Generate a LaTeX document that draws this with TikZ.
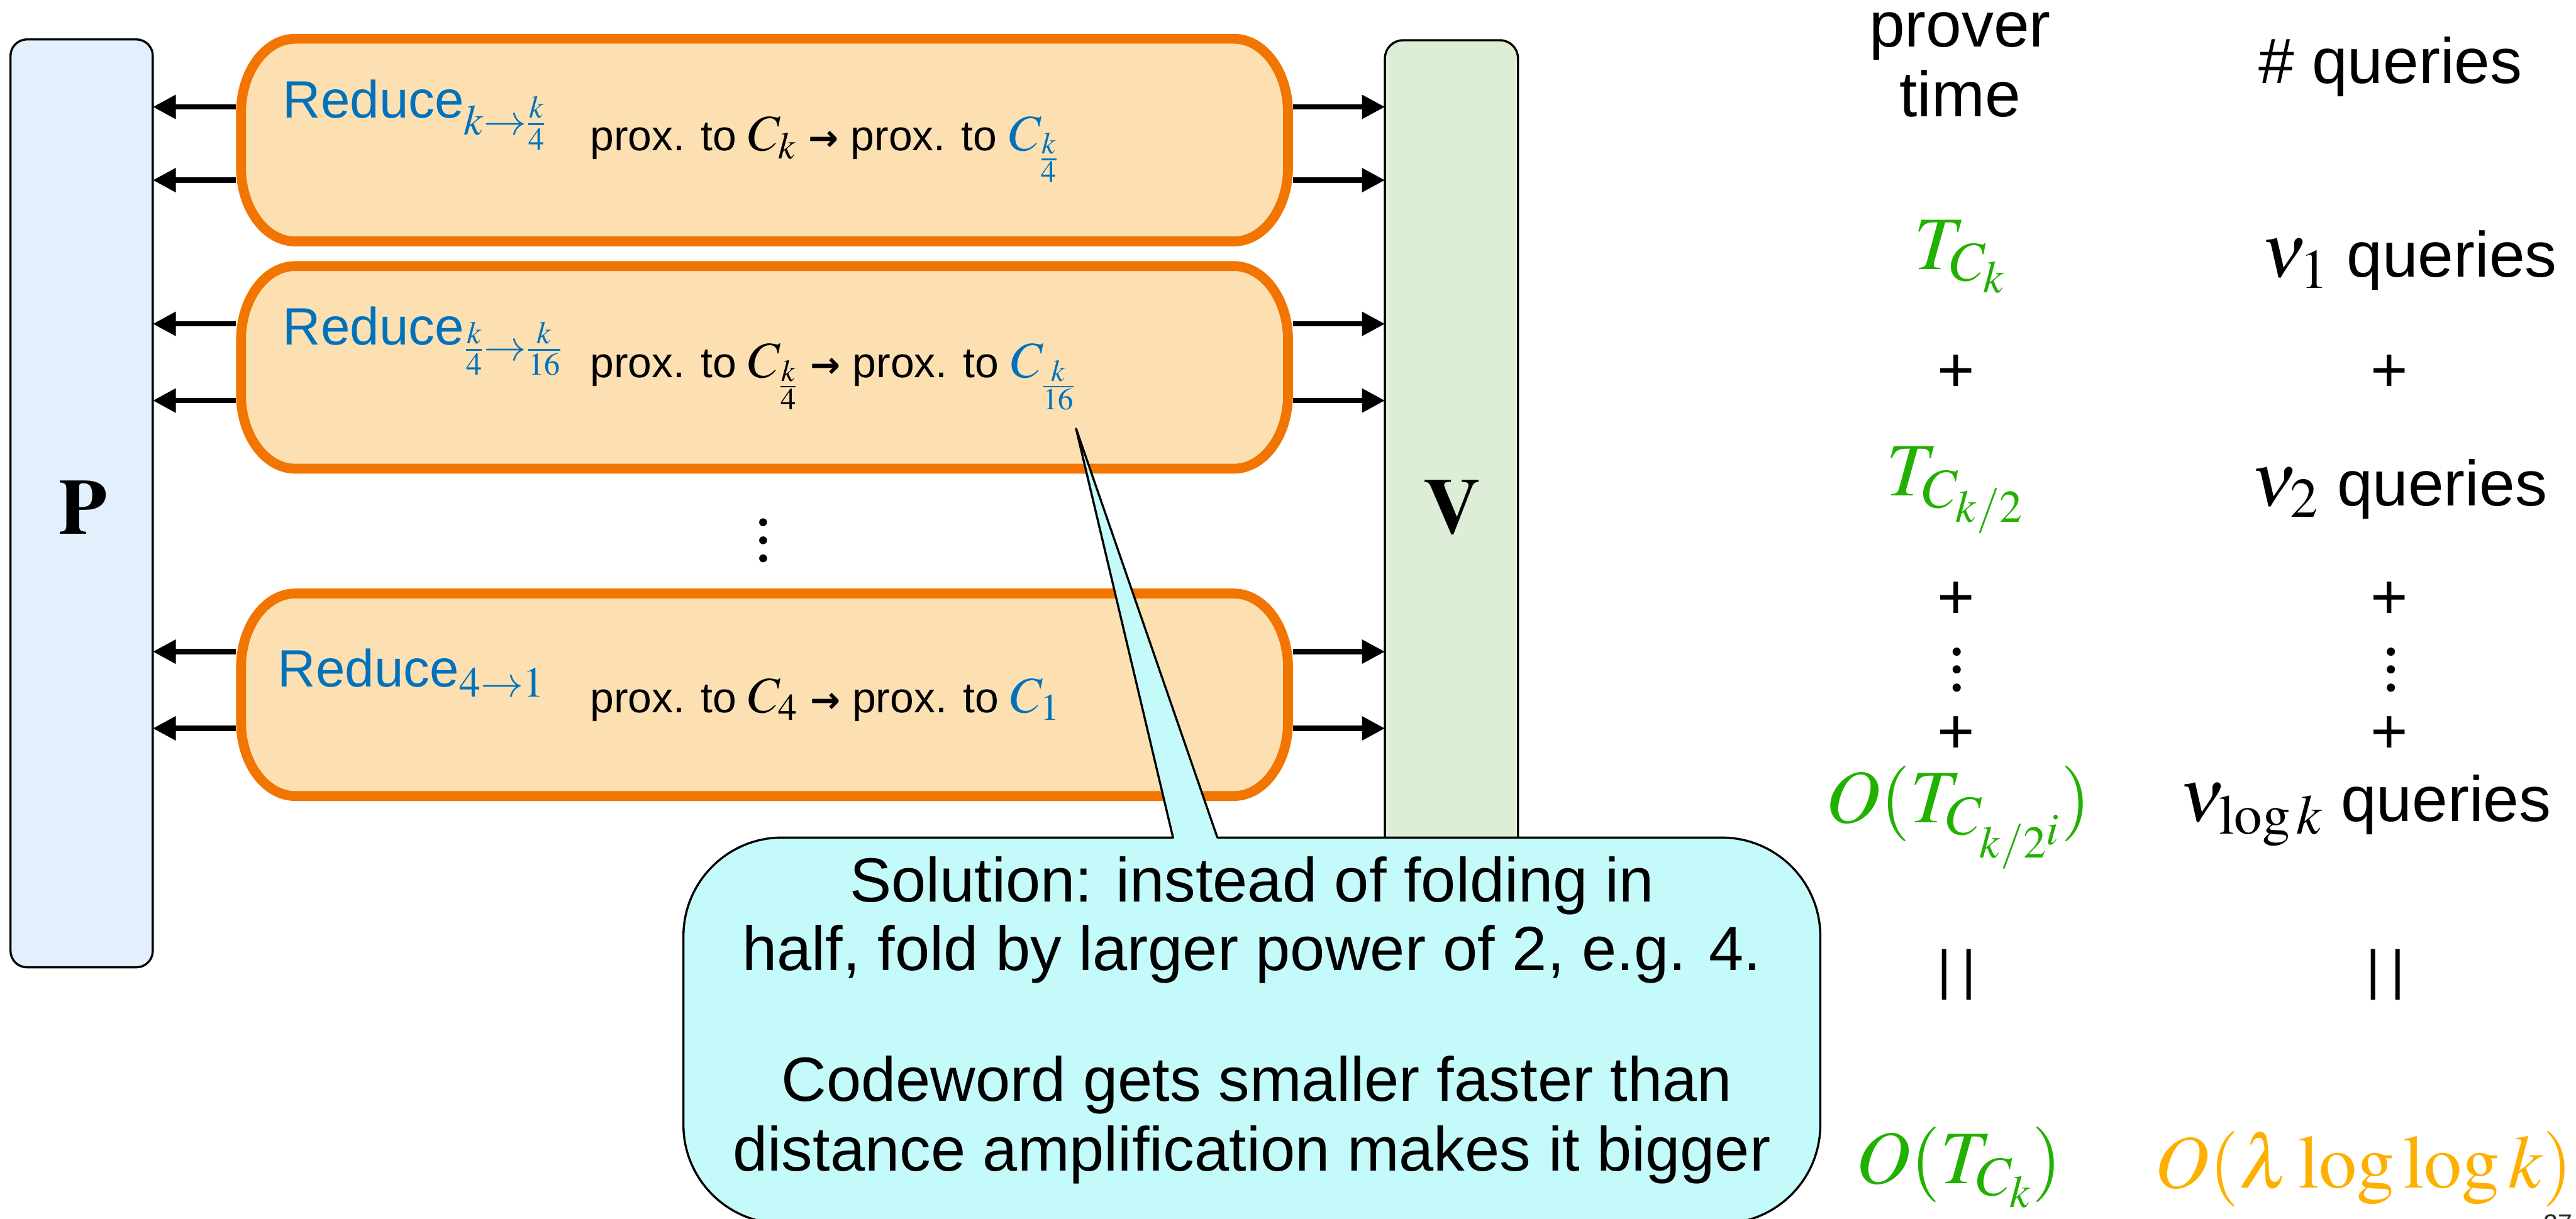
\documentclass[tikz,border=0pt]{standalone}
\usepackage{mathptmx}
\usepackage[no-math]{fontspec}
\setmainfont{Liberation Sans}
\newfontfamily\dejavu{DejaVu Sans}
\usetikzlibrary{arrows.meta}
\definecolor{rblue}{HTML}{0072BC}
\definecolor{rorange}{HTML}{F17500}
\definecolor{rfill}{HTML}{FDE0B2}
\definecolor{pfill}{HTML}{E2F0FD}
\definecolor{vfill}{HTML}{DEEED6}
\definecolor{cfill}{HTML}{C5FAFA}
\definecolor{tgreen}{HTML}{22B100}
\definecolor{torange}{HTML}{FDB000}
\newcommand\ellbox[7]{%
  \draw[#1] ({#2+#6},#3) -- ({#4-#6},#3)
    .. controls ({#4-0.448*#6},#3) and (#4,{#3+0.448*#7}) .. (#4,{#3+#7})
    -- (#4,{#5-#7})
    .. controls (#4,{#5-0.448*#7}) and ({#4-0.448*#6},#5) .. ({#4-#6},#5)
    -- ({#2+#6},#5)
    .. controls ({#2+0.448*#6},#5) and (#2,{#5-0.448*#7}) .. (#2,{#5-#7})
    -- (#2,{#3+#7})
    .. controls (#2,{#3+0.448*#7}) and ({#2+0.448*#6},#3) .. cycle;}
\newcommand\mthA[1]{{\fontsize{31}{34}\selectfont$#1$}}
\newcommand\mthB{\fontsize{46}{50}\selectfont}
\newcommand\rarr{{\dejavu\bfseries\fontsize{22}{24}\selectfont →}}
\newcommand\subbox[2]{\raisebox{-#1pt}{\fontsize{26}{28}\selectfont$#2$}}
\begin{document}
\begin{tikzpicture}[x=1pt,y=-1pt,
  sidebox/.style={draw=black, line width=1.3pt, rounded corners=10pt, inner sep=0pt, outer sep=0pt},
  holder/.style={inner sep=0pt, outer sep=0pt, minimum width=643.3pt, minimum height=129.4pt},
  rboxstyle/.style={draw=rorange, fill=rfill, line width=6pt, line join=round},
  arr/.style={line width=3.2pt, -{Triangle[length=14pt,width=14pt]}},
  redlbl/.style={anchor=base west, inner sep=0pt, text=rblue, font=\fontsize{32}{36}\selectfont},
  proxlbl/.style={anchor=base west, inner sep=0pt, font=\fontsize{26}{30}\selectfont},
  rtxt/.style={anchor=base, inner sep=0pt, font=\fontsize{39}{42}\selectfont},
  rtxtw/.style={anchor=base west, inner sep=0pt, font=\fontsize{39}{42}\selectfont},
  ctxt/.style={anchor=base, inner sep=0pt, font=\fontsize{38}{42}\selectfont}]
\useasboundingbox (0,0) rectangle (1568,742);

% prover and verifier
\node[sidebox, fill=pfill, minimum width=86.6pt, minimum height=565pt] (P) at (49.7,306.5) {};
\node[sidebox, fill=vfill, minimum width=81pt, minimum height=564.5pt, rounded corners=11pt] (V) at (883.5,306.75) {};
\node[inner sep=0pt, font=\fontsize{48}{50}\selectfont] (Plbl) at (50.5,309) {$\mathbf{P}$};
\node[inner sep=0pt, font=\fontsize{48}{50}\selectfont] (Vlbl) at (884,309) {$\mathbf{V}$};

% reduce boxes
\node[holder] (r1) at (465.35,85.3) {};
\node[holder] (r2) at (465.35,223.7) {};
\node[holder] (r3) at (465.35,423.05) {};
\ellbox{rboxstyle}{146.7}{23.6}{784}{147}{33}{45}
\ellbox{rboxstyle}{146.7}{162}{784}{285.4}{33}{45}
\ellbox{rboxstyle}{146.7}{361.4}{784}{484.7}{33}{45}

% arrows
\foreach \yy [count=\i] in {65.1,109.7,197.2,243.9,396.8,443.5} { \coordinate (a\i) at (0,\yy); }
\foreach \i/\b in {1/r1,2/r1,3/r2,4/r2,5/r3,6/r3} {
  \draw[arr] (\b.west |- a\i) -- (P.east |- a\i);
  \draw[arr] (\b.east |- a\i) -- (V.west |- a\i);
}

% box labels
\node[redlbl] (l1) at (172,71.7) {Reduce\subbox{10.5}{k{\to}\frac{k}{4}}};
\node[proxlbl] (p1) at (359,91.6) {prox. to \mthA{C_k} \rarr\ prox. to \mthA{\color{rblue}C_{\frac{k}{4}}}};
\node[redlbl] (l2) at (172,210) {Reduce\subbox{9.5}{\frac{k}{4}{\to}\frac{k}{16}}};
\node[proxlbl] (p2) at (359,230) {prox. to \mthA{C_{\frac{k}{4}}} \rarr\ prox. to \mthA{\color{rblue}C_{\frac{k}{16}}}};
\node[redlbl] (l3) at (169,418.3) {Reduce\subbox{6}{4{\to}1}};
\node[proxlbl] (p3) at (359,433.8) {prox. to \mthA{C_4} \rarr\ prox. to \mthA{\color{rblue}C_1}};

% vertical dots between boxes
\foreach \yy in {318,329,340} { \fill (464.5,\yy) circle[radius=2.4pt]; }

% right columns
\node[rtxt] (h1) at (1193,28.6) {prover};
\node[rtxt] (h2) at (1193,71) {time};
\node[rtxt] (h3) at (1455,50.8) {\# queries};
\node[anchor=base, inner sep=0pt, text=tgreen, font=\mthB] (t1) at (1193,164) {$T_{C_k}$};
\node[rtxtw] (q1) at (1376,168.5) {{\mthB$\nu_1$} queries};
\node[rtxt] (pl1) at (1190.5,238.8) {+};
\node[rtxt] (pr1) at (1454.5,238.8) {+};
\node[anchor=base, inner sep=0pt, text=tgreen, font=\mthB] (t2) at (1190,302) {$T_{C_{k/2}}$};
\node[rtxtw] (q2) at (1370,308) {{\mthB$\nu_2$} queries};
\node[rtxt] (pl2) at (1190.5,376.8) {+};
\node[rtxt] (pr2) at (1454.5,376.8) {+};
\foreach \yy in {396.8,407.6,418.7} {
  \fill (1191,\yy) circle[radius=2.5pt];
  \fill (1455.3,\yy) circle[radius=2.5pt];
}
\node[rtxt] (pl3) at (1190.5,458.8) {+};
\node[rtxt] (pr3) at (1454.5,458.8) {+};
\node[anchor=base, inner sep=0pt, text=tgreen, font=\mthB] (t3) at (1192,501) {$O(T_{C_{k/2^i}})$};
\node[anchor=base east, inner sep=0pt, font=\fontsize{39}{42}\selectfont] (q3) at (1553,500) {{\mthB$\nu_{\log k}$} queries};
\node[anchor=base, inner sep=0pt, font=\fontsize{33}{36}\selectfont] (eq1) at (1191,602) {|\kern0.2em|};
\node[anchor=base, inner sep=0pt, font=\fontsize{33}{36}\selectfont] (eq2) at (1452,602) {|\kern0.2em|};
\node[anchor=base, inner sep=0pt, text=tgreen, font=\mthB] (t4) at (1192.5,720.7) {$O(T_{C_k})$};
\node[anchor=base east, inner sep=0pt, text=torange, font=\mthB] (q4) at (1566,723.5) {$O(\lambda\log\log k)$};
\node[anchor=base, inner sep=0pt, text=black!85, font=\fontsize{15.7}{18}\selectfont] (pg) at (1557,750.6) {27};

% callout
\draw[fill=cfill, line width=1.3pt, line join=round]
  (741,510) -- (1048,510) .. controls (1081.1,510) and (1108,536.9) .. (1108,570)
  -- (1108,685) .. controls (1108,718.1) and (1081.1,745) .. (1048,745)
  -- (476,745) .. controls (442.9,745) and (416,718.1) .. (416,685)
  -- (416,570) .. controls (416,536.9) and (442.9,510) .. (476,510)
  -- (714,510) -- (655,261) -- cycle;
\node[ctxt] (c1) at (762,549) {Solution: instead of folding in};
\node[ctxt] (c2) at (762,591) {half, fold by larger power of 2, e.g. 4.};
\node[ctxt] (c3) at (765,670.5) {Codeword gets smaller faster than};
\node[ctxt] (c4) at (762,713) {distance amplification makes it bigger};
\end{tikzpicture}
\end{document}
